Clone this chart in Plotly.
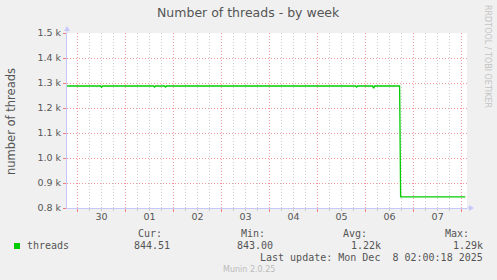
import plotly.graph_objects as go

# ---- data ----
times = [
    "2025-11-29 18:45", "2025-11-30 11:30", "2025-11-30 12:00", "2025-11-30 12:30",
    "2025-12-01 14:00", "2025-12-01 14:30", "2025-12-01 15:00",
    "2025-12-01 19:30", "2025-12-01 20:00", "2025-12-01 20:30",
    "2025-12-05 19:00", "2025-12-05 19:30", "2025-12-05 20:00",
    "2025-12-06 03:30", "2025-12-06 04:00", "2025-12-06 04:30",
    "2025-12-06 17:00", "2025-12-06 17:30", "2025-12-08 01:50",
]
threads = [
    1288, 1288, 1283, 1288,
    1288, 1284, 1288,
    1288, 1284, 1288,
    1288, 1284, 1288,
    1288, 1279, 1288,
    1288, 844.5, 844.5,
]
y_ticks = [800, 900, 1000, 1100, 1200, 1300, 1400, 1500]
y_tick_labels = ["0.8 k", "0.9 k", "1.0 k", "1.1 k", "1.2 k", "1.3 k", "1.4 k", "1.5 k"]
x_range = ["2025-11-29 18:43", "2025-12-08 02:41"]
legend_stats = {"Cur:": "844.51", "Min:": "843.00", "Avg:": "1.22k", "Max:": "1.29k"}

W, H = 497, 280
L, R, T, B = 67, 30, 33, 72
PW, PH = W - L - R, H - T - B


def px(x):
    return (x - L) / PW


def py(y):
    return (H - B - y) / PH


GREEN = "#00cc00"
RED_GRID = "#f29a9a"
GREY_GRID = "#cfcfcf"
AXIS = "#c8c8f8"
TXT = "#555555"
MONO = "DejaVu Sans Mono"
SANS = "DejaVu Sans"
DOT = "1px,2px"

fig = go.Figure()
fig.add_trace(go.Scatter(
    x=times, y=threads, mode="lines",
    line=dict(color=GREEN, width=1.3), hoverinfo="skip", showlegend=False,
))

fig.update_layout(
    width=W, height=H,
    margin=dict(l=L, r=R, t=T, b=B, pad=0),
    paper_bgcolor="#f0f0f0", plot_bgcolor="#ffffff",
    showlegend=False, hovermode=False,
    font=dict(family=SANS, color=TXT, size=9.5),
)

fig.update_xaxes(
    type="date", range=x_range,
    tick0="2025-11-29 00:00", dtick=86400000, tickformat="%d",
    ticklabelmode="period", ticklabelstandoff=-3,
    ticks="outside", ticklen=3, tickcolor="#f08080", tickwidth=1,
    showgrid=True, gridcolor=RED_GRID, griddash=DOT, gridwidth=1,
    showline=True, linecolor=AXIS, linewidth=1,
    zeroline=False,
    tickfont=dict(family=SANS, size=9.5, color=TXT),
    minor=dict(tick0="2025-11-29 06:00", dtick=21600000, showgrid=True,
               gridcolor=GREY_GRID, griddash=DOT, gridwidth=1,
               ticks="outside", ticklen=2, tickcolor="#c8c8c8"),
)
fig.update_yaxes(
    range=[800, 1500], tickmode="array", tickvals=y_ticks, ticktext=y_tick_labels,
    ticks="outside", ticklen=3, tickcolor="#f08080",
    showgrid=True, gridcolor=RED_GRID, griddash=DOT, gridwidth=1,
    showline=True, linecolor=AXIS, linewidth=1, zeroline=False,
    tickfont=dict(family=SANS, size=9.5, color=TXT),
)

shapes = []
# axis arrows
shapes.append(dict(type="line", xref="paper", yref="paper",
                   x0=px(67), x1=px(67), y0=py(33), y1=py(29),
                   line=dict(color=AXIS, width=1)))
shapes.append(dict(type="path", xref="paper", yref="paper",
                   path=f"M {px(64)} {py(31)} L {px(70)} {py(31)} L {px(67)} {py(26)} Z",
                   fillcolor=AXIS, line=dict(width=0)))
shapes.append(dict(type="line", xref="paper", yref="paper",
                   x0=px(467), x1=px(470), y0=py(208), y1=py(208),
                   line=dict(color=AXIS, width=1)))
shapes.append(dict(type="path", xref="paper", yref="paper",
                   path=f"M {px(469)} {py(205)} L {px(469)} {py(211)} L {px(474)} {py(208)} Z",
                   fillcolor=AXIS, line=dict(width=0)))
# legend colour box
shapes.append(dict(type="rect", xref="paper", yref="paper",
                   x0=px(14), x1=px(20), y0=py(243), y1=py(249),
                   fillcolor=GREEN, line=dict(width=0)))
fig.update_layout(shapes=shapes)

ann = []


def text(s, x, y, size=10, family=MONO, color=TXT, xanchor="left", angle=0):
    ann.append(dict(text=s, x=px(x), y=py(y), xref="paper", yref="paper",
                    xanchor=xanchor, yanchor="middle", showarrow=False,
                    textangle=angle, borderpad=0, borderwidth=0,
                    font=dict(family=family, size=size, color=color)))


text("Number of threads - by week", 248.5, 13, size=12.5, family=SANS, xanchor="center")
text("number of threads", 11, 121, size=11.5, family=SANS, xanchor="center", angle=-90)
text("RRDTOOL / TOBI OETIKER", 488, 56, size=8, family=SANS, color="#c4c4c4",
     xanchor="center", angle=90)

text("threads", 27, 245.5)
head_right = [162, 265, 367, 469]
val_right = [170, 273.3, 381, 483]
for (k, v), hr, vr in zip(legend_stats.items(), head_right, val_right):
    text(k, hr, 233.5, xanchor="right")
    text(v, vr, 245.5, xanchor="right")
text("Last update: Mon Dec  8 02:00:18 2025", 483, 257.5, xanchor="right")
text("Munin 2.0.25", 249, 269, size=8, family=SANS, color="#bbbbbb", xanchor="center")

fig.update_layout(annotations=ann)

fig.write_html("out.html")
